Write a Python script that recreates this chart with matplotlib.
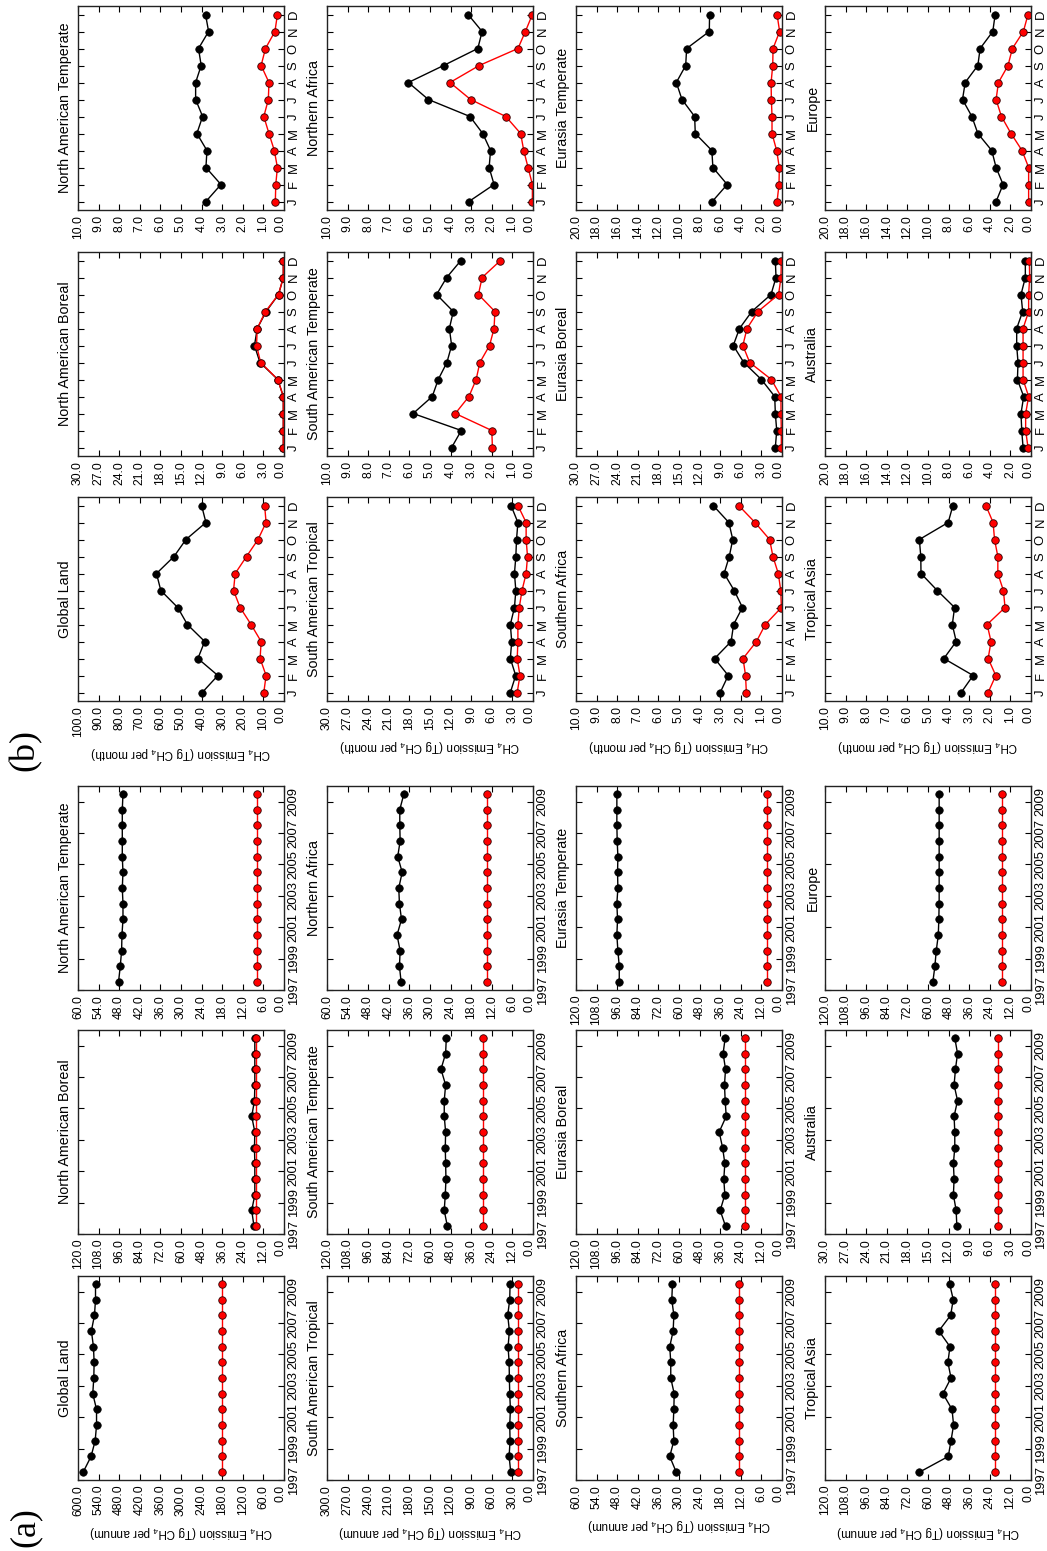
import numpy as np
import matplotlib
matplotlib.use("Agg")
import matplotlib.pyplot as plt

plt.rcParams['font.family'] = ['Liberation Sans', 'DejaVu Sans']
plt.rcParams['mathtext.default'] = 'regular'

years = list(range(1997, 2010))
year_ticks = [1997, 1999, 2001, 2003, 2005, 2007, 2009]
months = list(range(1, 13))
month_labels = ["J", "F", "M", "A", "M", "J", "J", "A", "S", "O", "N", "D"]

regions = ["Global Land", "North American Boreal", "North American Temperate",
           "South American Tropical", "South American Temperate", "Northern Africa",
           "Southern Africa", "Eurasia Boreal", "Eurasia Temperate",
           "Tropical Asia", "Australia", "Europe"]

annual_max = [600, 120, 60, 300, 120, 60, 60, 120, 120, 120, 30, 120]
monthly_max = [100, 30, 10, 30, 10, 10, 10, 30, 20, 10, 20, 20]

# (a) annual totals, Tg CH4 per annum
annual_black = [
    [585, 562, 550, 546, 546, 557, 554, 553, 555, 561, 552, 549, 549],
    [17.5, 18.8, 17.0, 17.0, 17.0, 17.2, 17.0, 18.8, 17.2, 17.0, 17.0, 17.0, 17.0],
    [48.2, 47.7, 47.3, 47.2, 46.9, 46.9, 47.1, 46.9, 47.1, 47.1, 47.1, 47.1, 46.9],
    [32.4, 34.8, 33.4, 33.9, 32.9, 33.9, 34.4, 34.8, 36.3, 34.4, 36.8, 33.9, 33.4],
    [49.9, 51.7, 51.1, 50.7, 50.9, 51.1, 50.9, 51.7, 51.7, 50.9, 53.6, 50.9, 50.5],
    [38.4, 38.9, 38.7, 39.6, 38.3, 38.9, 39.1, 38.1, 39.4, 38.7, 38.8, 38.8, 37.6],
    [30.8, 32.7, 31.5, 31.7, 31.5, 31.4, 32.4, 32.4, 32.7, 31.7, 31.5, 32.1, 31.9],
    [32.9, 36.0, 33.3, 33.9, 33.3, 34.6, 36.6, 32.5, 33.1, 33.5, 32.9, 34.3, 33.1],
    [94.8, 94.8, 95.6, 96.2, 95.8, 96.2, 95.6, 95.8, 95.6, 96.0, 96.2, 96.2, 96.2],
    [65.0, 48.2, 46.6, 45.1, 46.0, 51.3, 46.6, 48.4, 47.2, 53.7, 46.8, 45.3, 47.4],
    [10.8, 10.9, 11.3, 11.2, 11.3, 11.1, 11.1, 11.2, 10.7, 11.2, 11.0, 10.7, 11.1],
    [57.2, 56.0, 55.2, 54.0, 53.7, 53.5, 53.5, 53.5, 53.5, 53.5, 53.5, 53.5, 53.5],
]
annual_red = [180.4, 16.5, 8.0, 21.3, 29.0, 13.5, 12.4, 21.7, 8.5, 20.7, 4.8, 17.0]

# (b) monthly climatology, Tg CH4 per month
monthly_black = [
    [39.7, 32.1, 41.8, 38.5, 46.9, 51.6, 59.8, 61.9, 53.4, 47.6, 37.9, 40.0],
    [0.1, 0.1, 0.1, 0.1, 0.9, 3.5, 4.3, 3.9, 2.6, 0.8, 0.1, 0.1],
    [3.79, 3.06, 3.79, 3.74, 4.23, 3.95, 4.29, 4.29, 4.02, 4.15, 3.66, 3.81],
    [3.3, 2.52, 3.3, 3.1, 3.3, 2.7, 2.5, 2.7, 2.5, 2.4, 2.2, 3.2],
    [3.95, 3.48, 5.82, 4.89, 4.60, 4.18, 3.95, 4.06, 3.87, 4.68, 4.19, 3.50],
    [3.11, 1.89, 2.13, 2.06, 2.44, 3.06, 5.08, 6.05, 4.34, 2.68, 2.47, 3.15],
    [3.00, 2.61, 3.27, 2.47, 2.35, 1.92, 2.32, 2.81, 2.56, 2.39, 2.58, 3.34],
    [0.97, 0.77, 0.97, 1.06, 3.0, 5.56, 7.1, 6.19, 4.4, 1.6, 0.87, 0.97],
    [6.77, 5.32, 6.71, 6.81, 8.42, 8.48, 9.71, 10.26, 9.35, 9.26, 7.06, 7.03],
    [3.39, 2.81, 4.23, 3.63, 3.82, 3.71, 4.55, 5.34, 5.35, 5.42, 4.02, 3.79],
    [0.77, 0.90, 0.97, 0.71, 1.32, 1.26, 1.39, 1.39, 0.81, 0.97, 0.55, 0.55],
    [3.39, 2.71, 3.39, 3.81, 5.16, 5.74, 6.65, 6.39, 5.16, 4.94, 3.71, 3.48],
]
monthly_red = [
    [9.8, 8.7, 11.6, 11.1, 16.0, 21.3, 24.5, 23.7, 18.2, 12.6, 8.7, 9.4],
    [0.1, 0.1, 0.1, 0.1, 0.9, 3.4, 4.0, 3.9, 2.7, 0.8, 0.1, 0.1],
    [0.42, 0.40, 0.32, 0.47, 0.73, 0.98, 0.76, 0.73, 1.11, 0.90, 0.44, 0.32],
    [2.3, 1.9, 2.3, 2.2, 2.2, 2.0, 1.6, 1.0, 0.8, 1.0, 1.0, 2.2],
    [1.97, 2.0, 3.77, 3.11, 2.76, 2.58, 2.11, 1.89, 1.85, 2.65, 2.47, 1.58],
    [0.03, 0.03, 0.24, 0.45, 0.6, 1.32, 3.03, 4.03, 2.61, 0.73, 0.37, 0.03],
    [1.73, 1.77, 1.89, 1.24, 0.81, 0.03, 0.06, 0.18, 0.44, 0.6, 1.31, 2.1],
    [0.1, 0.1, 0.15, 0.15, 1.55, 4.7, 5.7, 5.1, 3.5, 0.5, 0.15, 0.1],
    [0.48, 0.29, 0.26, 0.52, 0.97, 0.97, 1.03, 1.06, 0.9, 0.87, 0.23, 0.48],
    [2.08, 1.71, 2.08, 1.94, 2.13, 1.26, 1.34, 1.61, 1.61, 1.77, 1.84, 2.19],
    [0.29, 0.52, 0.52, 0.23, 0.77, 0.77, 0.77, 0.77, 0.23, 0.23, 0.13, 0.16],
    [0.23, 0.23, 0.23, 0.87, 1.94, 2.87, 3.39, 3.16, 2.23, 1.81, 0.74, 0.29],
]

W, H = 1047, 1551
fig = plt.figure(figsize=(W / 100, H / 100), dpi=100)

col_left = [78, 327, 576, 825]
ax_w, ax_h = 206, 204
tops_a = [1276, 1030, 786]
tops_b = [497, 252, 6]
narrow = ['Liberation Sans Narrow', 'Liberation Sans', 'DejaVu Sans']


def make_ax(x, top):
    return fig.add_axes([x / W, 1 - (top + ax_h) / H, ax_w / W, ax_h / H])


def style(ax, vmax, title, ylabel):
    ax.set_xlim(vmax, 0)
    vt = np.linspace(0, vmax, 11)
    ax.set_xticks(vt)
    ax.set_xticklabels([f"{v:.1f}" for v in vt])
    ax.tick_params(axis='both', direction='in', length=4, width=0.8,
                   top=True, bottom=True, left=True, right=True,
                   labelleft=False, labelright=True)
    ax.tick_params(axis='x', labelrotation=90, pad=3.5)
    ax.tick_params(axis='y', labelrotation=90, pad=2.6)
    xl = ax.get_xticklabels()
    plt.setp(xl, family=narrow, fontsize=8.8)
    # the 0.0 label sits just left of the corner so it clears the first time label
    xl[0].set_rotation_mode('anchor')
    xl[0].set_ha('right')
    xl[0].set_va('baseline')
    plt.setp(ax.get_yticklabels(), family=narrow, fontsize=9.4, va='center')
    for s in ax.spines.values():
        s.set_linewidth(1.0)
        s.set_color('#222222')
    ax.annotate(title, xy=(0, 0.5), xycoords='axes fraction', xytext=(-4, 0),
                textcoords='offset points', rotation=90, ha='right', va='center',
                fontsize=10.3)
    if ylabel:
        ax.set_xlabel(ylabel, rotation=180, fontsize=8.5, labelpad=6)


def draw(ax, t, black, red):
    ax.plot(black, t, '-o', color='black', lw=1.0, ms=5.4, mfc='black', mec='black', mew=0.5)
    ax.plot(red, t, '-o', color='red', lw=1.0, ms=5.4, mfc='red', mec='#300000', mew=0.6)


for r, name in enumerate(regions):
    row, col = divmod(r, 3)
    # (a) annual
    ax = make_ax(col_left[row], tops_a[col])
    draw(ax, years, annual_black[r], [annual_red[r]] * len(years))
    ax.set_ylim(1996.5, 2009.5)
    ax.set_yticks([y - 0.5 for y in year_ticks])
    ax.set_yticklabels([str(y) for y in year_ticks])
    style(ax, annual_max[r], name,
          'CH$_4$ Emission (Tg CH$_4$ per annum)' if col == 0 else None)
    # (b) monthly
    ax = make_ax(col_left[row], tops_b[col])
    draw(ax, months, monthly_black[r], monthly_red[r])
    ax.set_ylim(0.5, 12.5)
    ax.set_yticks(months)
    ax.set_yticklabels(month_labels)
    style(ax, monthly_max[r], name,
          'CH$_4$ Emission (Tg CH$_4$ per month)' if col == 0 else None)

fig.text(25 / W, 1 - 1527 / H, "(a)", rotation=90, ha='center', va='center',
         fontsize=26, family=['Liberation Serif', 'DejaVu Serif'])
fig.text(25 / W, 1 - 750 / H, "(b)", rotation=90, ha='center', va='center',
         fontsize=26, family=['Liberation Serif', 'DejaVu Serif'])

fig.savefig("out.png", dpi=100)
